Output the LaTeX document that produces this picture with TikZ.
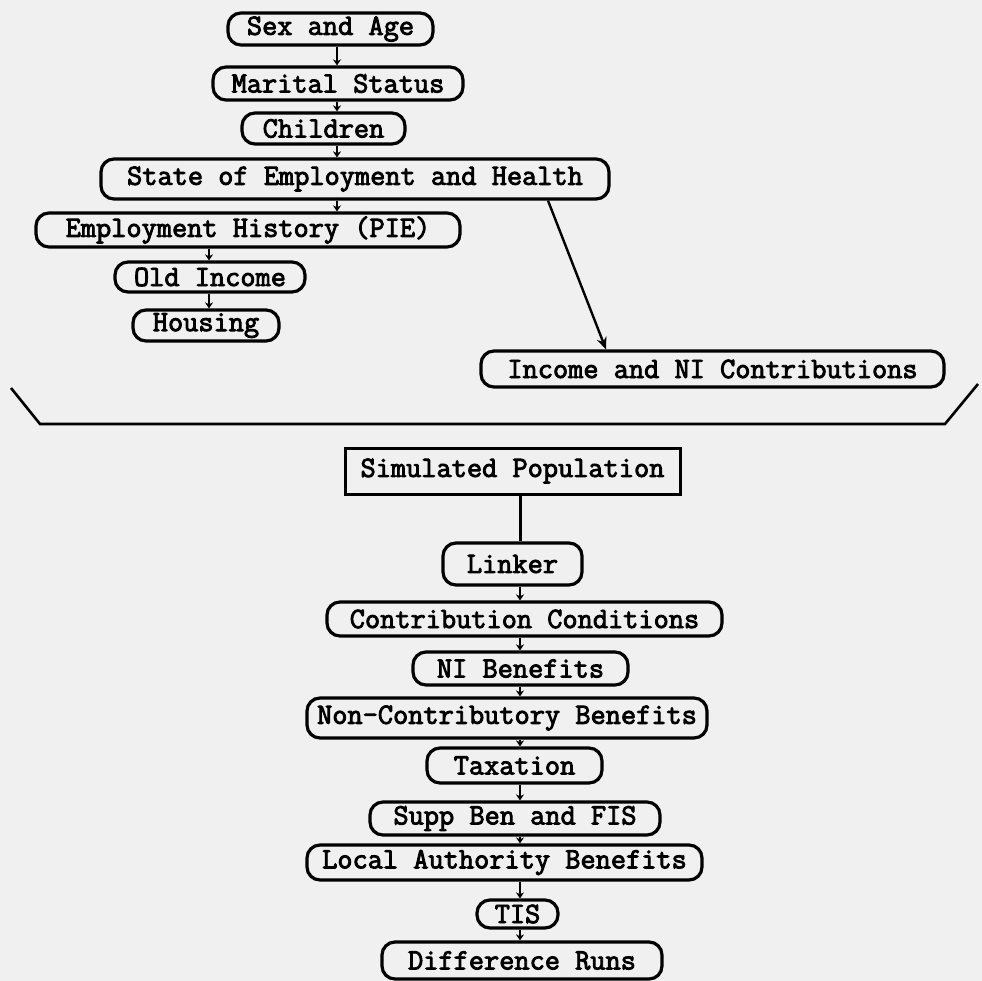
\documentclass[tikz,border=0pt]{standalone}
\usepackage{fontspec}
\newfontfamily\boxfont{Latin Modern Mono}[FakeBold=3]
\usetikzlibrary{arrows.meta}
\definecolor{paper}{gray}{0.94}
\tikzset{
  pbox/.style={draw, line width=3.2pt, rounded corners=13pt, inner sep=0pt,
    font=\fontsize{29.5}{32}\boxfont, align=center},
  sqbox/.style={draw, line width=3pt, inner sep=0pt,
    font=\fontsize{29.5}{32}\boxfont, align=center},
  conn/.style={line width=2.2pt, -{Stealth[length=6pt,width=8pt]}},
  bigarrow/.style={line width=2.4pt, -{Stealth[length=12pt,width=10pt]}},
  bracket/.style={line width=2.6pt}
}
\begin{document}
\begin{tikzpicture}[x=1pt,y=-1pt]
\fill[paper] (0,0) rectangle (982,981);
\useasboundingbox (0,0) rectangle (982,981);

% top group
\node[pbox, minimum width=205pt, minimum height=32pt] (sex) at (330.5,29) {Sex and Age};
\node[pbox, minimum width=250pt, minimum height=33pt] (mar) at (338,83.5) {Marital Status};
\node[pbox, minimum width=163pt, minimum height=31pt] (chi) at (323.5,128.5) {Children};
\node[pbox, minimum width=508pt, minimum height=40pt] (sta) at (355,179) {State of Employment and Health};
\node[pbox, minimum width=424pt, minimum height=34pt] (pie) at (248,230) {Employment History (PIE)};
\node[pbox, minimum width=190pt, minimum height=30pt] (old) at (210,277) {Old Income};
\node[pbox, minimum width=146pt, minimum height=31pt] (hou) at (206,325.5) {Housing};
\node[pbox, minimum width=463pt, minimum height=36pt] (inc) at (712.5,369) {Income and NI Contributions};

\coordinate (ax) at (337,0);
\coordinate (cx) at (209,0);
\draw[conn] (sex.south -| ax) -- (mar.north -| ax);
\draw[conn] (mar.south -| ax) -- (chi.north -| ax);
\draw[conn] (chi.south -| ax) -- (sta.north -| ax);
\draw[conn] (sta.south -| ax) -- (pie.north -| ax);
\draw[conn] (pie.south -| cx) -- (old.north -| cx);
\draw[conn] (old.south -| cx) -- (hou.north -| cx);
\draw[bigarrow] ([xshift=193pt]sta.south) -- ([xshift=-106.5pt]inc.north);

% bracket
\coordinate (bl) at (11,388);
\coordinate (blc) at (40,424);
\coordinate (brc) at (945,424);
\coordinate (br) at (978,384);
\draw[bracket] (bl) -- (blc) -- (brc) -- (br);

% bottom group
\node[sqbox, minimum width=335pt, minimum height=46pt] (sim) at (512.5,471) {Simulated Population};
\node[pbox, minimum width=139pt, minimum height=42pt] (lnk) at (512.5,564) {Linker};
\node[pbox, minimum width=395pt, minimum height=34pt] (con) at (524.5,619) {Contribution Conditions};
\node[pbox, minimum width=215pt, minimum height=33pt] (nib) at (520.5,668.5) {NI Benefits};
\node[pbox, minimum width=400pt, minimum height=40pt] (ncb) at (507,718) {Non-Contributory Benefits};
\node[pbox, minimum width=175pt, minimum height=35pt] (tax) at (514.5,765.5) {Taxation};
\node[pbox, minimum width=290pt, minimum height=33pt] (sup) at (515,818.5) {Supp Ben and FIS};
\node[pbox, minimum width=395pt, minimum height=35pt] (loc) at (504.5,862.5) {Local Authority Benefits};
\node[pbox, minimum width=81pt, minimum height=28pt] (tis) at (517.5,914) {TIS};
\node[pbox, minimum width=280pt, minimum height=37pt] (dif) at (522,960.5) {Difference Runs};

\coordinate (bx) at (520,0);
\draw[line width=3pt] (sim.south -| bx) -- (lnk.north -| bx);
\draw[conn] (lnk.south -| bx) -- (con.north -| bx);
\draw[conn] (con.south -| bx) -- (nib.north -| bx);
\draw[conn] (nib.south -| bx) -- (ncb.north -| bx);
\draw[conn] (ncb.south -| bx) -- (tax.north -| bx);
\draw[conn] (tax.south -| bx) -- (sup.north -| bx);
\draw[conn] (sup.south -| bx) -- (loc.north -| bx);
\draw[conn] (loc.south -| bx) -- (tis.north -| bx);
\draw[conn] (tis.south -| bx) -- (dif.north -| bx);
\end{tikzpicture}
\end{document}
